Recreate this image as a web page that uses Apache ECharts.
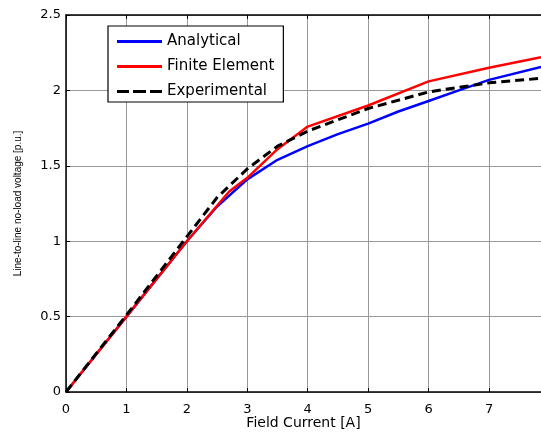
<!DOCTYPE html>
<html>
<head>
<meta charset="utf-8">
<script src="https://cdn.jsdelivr.net/npm/echarts@6/dist/echarts.min.js"></script>
<style>html,body{margin:0;padding:0;background:#fff;}#c{width:541px;height:436px;}</style>
</head>
<body>
<div id="c"></div>
<script>
const analyticalX = [0, 0.5, 1, 1.5, 2, 2.5, 3, 3.5, 4, 4.5, 5, 5.5, 6, 6.5, 7, 7.86];
const analyticalY = [0, 0.25, 0.5, 0.75, 1.0, 1.23, 1.41, 1.54, 1.63, 1.71, 1.78, 1.86, 1.93, 2.0, 2.07, 2.155];
const feX = [0, 1, 2, 2.7, 3, 3.5, 4, 5, 6, 7, 7.86];
const feY = [0, 0.5, 1.0, 1.33, 1.42, 1.61, 1.76, 1.90, 2.06, 2.15, 2.22];
const expX = [0, 1, 2, 2.5, 3, 3.5, 4, 5, 6, 7, 7.86];
const expY = [0, 0.51, 1.03, 1.29, 1.48, 1.63, 1.73, 1.88, 1.99, 2.05, 2.08];
const seriesNames = ['Analytical', 'Finite Element', 'Experimental'];
const xTicks = [0, 1, 2, 3, 4, 5, 6, 7];
const yTickLabels = ['0', '0.5', '1', '1.5', '2', '2.5'];

const zip = (xs, ys) => xs.map((x, i) => [x, ys[i]]);
const wide = '"DejaVu Sans", Verdana, sans-serif';
const arial = 'Arial, "Liberation Sans", sans-serif';
const solidIcon = 'path://M0,0h45v3h-45z';
const dashIcon = 'path://M0,0h12v3h-12z M16,0h13v3h-13z M33,0h12v3h-12z';
const chart = echarts.init(document.getElementById('c'), null, {renderer: 'canvas'});
const xCommon = {
  type: 'value', min: 0, max: 7.86, interval: 1,
  axisLine: {show: true, onZero: false, lineStyle: {color: '#000', width: 1.5}},
  axisTick: {show: true, inside: true, length: 4, lineStyle: {color: '#000'}},
};
chart.setOption({
  animation: false,
  backgroundColor: '#fff',
  grid: {left: 66, right: 0, top: 15, bottom: 44, containLabel: false, outerBoundsMode: 'none'},
  legend: {
    orient: 'vertical', left: 108, top: 26,
    data: [
      {name: seriesNames[0], icon: solidIcon, itemStyle: {color: '#0000ff'}},
      {name: seriesNames[1], icon: solidIcon, itemStyle: {color: '#ff0000'}},
      {name: seriesNames[2], icon: dashIcon, itemStyle: {color: '#000'}}
    ],
    backgroundColor: '#fff', borderColor: '#000', borderWidth: 1.2,
    padding: [8, 9, 3, 9], itemGap: 10, itemWidth: 45, itemHeight: 14,
    textStyle: {fontFamily: wide, fontSize: 15, color: '#000'},
    selectedMode: false
  },
  xAxis: [
    Object.assign({}, xCommon, {
      position: 'bottom',
      name: 'Field Current [A]', nameLocation: 'middle', nameGap: 24, nameMoveOverlap: false,
      nameTextStyle: {fontFamily: wide, fontSize: 14, color: '#000'},
      axisLabel: {fontFamily: wide, fontSize: 13, color: '#000', margin: 11, showMaxLabel: false,
        formatter: v => xTicks.includes(v) ? String(v) : ''},
      splitLine: {show: true, lineStyle: {color: '#999', width: 1}}
    }),
    Object.assign({}, xCommon, {
      position: 'top', axisLabel: {show: false}, splitLine: {show: false}
    })
  ],
  yAxis: {
    type: 'value', min: 0, max: 2.5, interval: 0.5,
    name: 'Line-to-line no-load voltage [p.u.]', nameLocation: 'middle', nameGap: 43, nameMoveOverlap: false,
    nameTextStyle: {fontFamily: arial, fontSize: 10, color: '#000'},
    axisLine: {show: true, lineStyle: {color: '#000', width: 1.5}},
    axisTick: {show: true, inside: true, length: 4, lineStyle: {color: '#000'}},
    axisLabel: {fontFamily: wide, fontSize: 13, color: '#000', margin: 5,
      formatter: v => yTickLabels[Math.round(v / 0.5)]},
    splitLine: {show: true, lineStyle: {color: '#999', width: 1}}
  },
  series: [
    {name: seriesNames[0], type: 'line', data: zip(analyticalX, analyticalY), symbol: 'none',
      lineStyle: {color: '#0000ff', width: 2.5}, itemStyle: {color: '#0000ff'}, z: 3},
    {name: seriesNames[1], type: 'line', data: zip(feX, feY), symbol: 'none',
      lineStyle: {color: '#ff0000', width: 2.5}, itemStyle: {color: '#ff0000'}, z: 4},
    {name: seriesNames[2], type: 'line', data: zip(expX, expY), symbol: 'none',
      lineStyle: {color: '#000', width: 3, type: [9, 5]}, itemStyle: {color: '#000'}, z: 5}
  ]
});
</script>
</body>
</html>
